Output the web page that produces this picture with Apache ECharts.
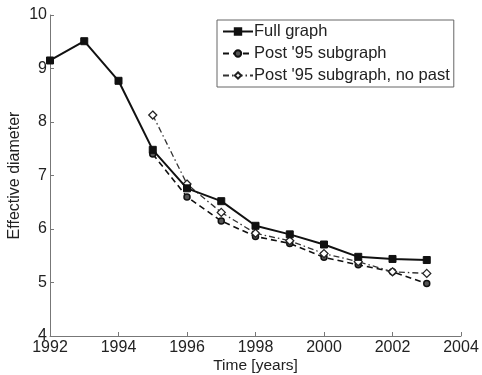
<!DOCTYPE html>
<html>
<head>
<meta charset="utf-8">
<script src="https://cdn.jsdelivr.net/npm/echarts@6/dist/echarts.min.js"></script>
<style>
	html, body { margin: 0; padding: 0; background: #fff; }
	#chart { width: 482px; height: 375px; }
</style>
</head>
<body>
<div id="chart"></div>
<script>
	// 数据
	var yearsFull = [1992, 1993, 1994, 1995, 1996, 1997, 1998, 1999, 2000, 2001, 2002, 2003];
	var fullGraph = [9.15, 9.51, 8.77, 7.48, 6.76, 6.52, 6.06, 5.90, 5.71, 5.48, 5.44, 5.42];
	var yearsPost = [1995, 1996, 1997, 1998, 1999, 2000, 2001, 2002, 2003];
	var post95 = [7.40, 6.60, 6.15, 5.86, 5.73, 5.47, 5.33, 5.20, 4.98];
	var post95NoPast = [8.13, 6.84, 6.31, 5.92, 5.78, 5.54, 5.39, 5.20, 5.17];
	var seriesNames = ['Full graph', "Post '95 subgraph", "Post '95 subgraph, no past"];

	function pairs(xs, ys) {
		var out = [];
		for (var i = 0; i < xs.length; i++) {
			out.push([xs[i], ys[i]]);
		}
		return out;
	}

	var font = 'Liberation Sans';
	var myChart = echarts.init(document.getElementById('chart'));
	var option = {
		animation: false,
		backgroundColor: '#fff',
		textStyle: { fontFamily: font, color: '#222' },
		grid: { left: 50, right: 21, top: 15, bottom: 39, outerBoundsMode: 'none' },
		legend: {
			data: seriesNames,
			orient: 'vertical',
			left: 217,
			top: 20,
			padding: [3, 4, 3, 5],
			itemGap: 5,
			itemWidth: 30,
			itemHeight: 8,
			borderColor: '#666',
			borderWidth: 1,
			backgroundColor: '#fff',
			textStyle: { fontFamily: font, fontSize: 16.5, color: '#222', padding: [0, 0, 0, -4] }
		},
		xAxis: {
			type: 'value',
			min: 1992,
			max: 2004,
			interval: 2,
			name: 'Time [years]',
			nameLocation: 'middle',
			nameGap: 22,
			nameMoveOverlap: false,
			nameTextStyle: { fontFamily: font, fontSize: 15.5, color: '#222' },
			axisLine: { lineStyle: { color: '#777', width: 1 } },
			axisTick: { inside: true, length: 4, lineStyle: { color: '#777' } },
			axisLabel: {
				fontFamily: font, fontSize: 16, color: '#222', margin: 4,
				formatter: function(v) { return String(v); }
			},
			splitLine: { show: false }
		},
		yAxis: {
			type: 'value',
			min: 4,
			max: 10,
			interval: 1,
			name: 'Effective diameter',
			nameLocation: 'middle',
			nameGap: 27,
			nameMoveOverlap: false,
			nameTextStyle: { fontFamily: font, fontSize: 16, color: '#222' },
			axisLine: { show: true, lineStyle: { color: '#777', width: 1 } },
			axisTick: { show: true, inside: true, length: 4, lineStyle: { color: '#777' } },
			axisLabel: { fontFamily: font, fontSize: 16, color: '#222', margin: 3 },
			splitLine: { show: false }
		},
		series: [
			{
				name: seriesNames[0],
				type: 'line',
				data: pairs(yearsFull, fullGraph),
				symbol: 'rect',
				symbolSize: 7,
				itemStyle: { color: '#111', borderColor: '#111', borderWidth: 1 },
				lineStyle: { color: '#111', width: 2, type: 'solid' },
				z: 3
			},
			{
				name: seriesNames[1],
				type: 'line',
				data: pairs(yearsPost, post95),
				symbol: 'circle',
				symbolSize: 6,
				itemStyle: { color: '#555', borderColor: '#111', borderWidth: 1.5 },
				lineStyle: { color: '#111', width: 1.6, type: [6, 4] },
				z: 2
			},
			{
				name: seriesNames[2],
				type: 'line',
				data: pairs(yearsPost, post95NoPast),
				symbol: 'diamond',
				symbolSize: 8,
				itemStyle: { color: '#fff', borderColor: '#222', borderWidth: 1.3 },
				lineStyle: { color: '#333', width: 1.3, type: [6, 3, 1.5, 3] },
				z: 2
			}
		]
	};
	myChart.setOption(option);
	window.onresize = myChart.resize;
</script>
</body>
</html>
